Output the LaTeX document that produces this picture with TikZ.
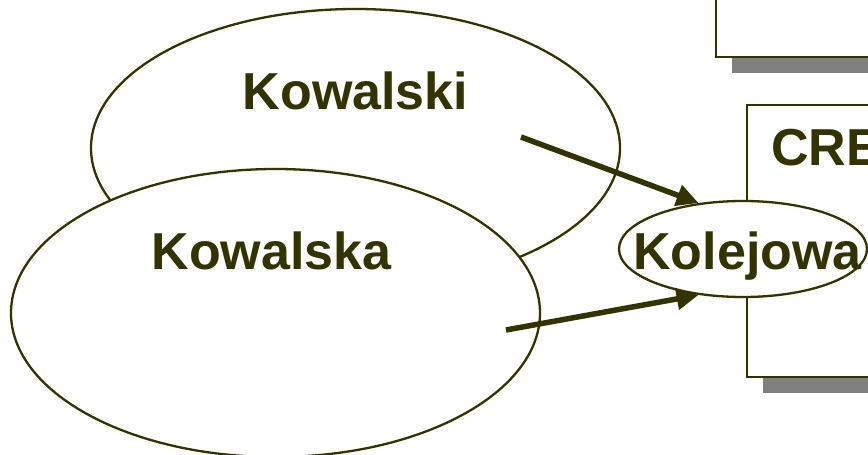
\documentclass[tikz,border=0pt]{standalone}
\usepackage{fontspec}
\setmainfont{Liberation Sans}
\usetikzlibrary{shapes.geometric,arrows.meta}
\definecolor{olive}{RGB}{51,51,0}
\definecolor{shadowgray}{RGB}{128,128,128}
\begin{document}
\begin{tikzpicture}[x=1pt,y=-1pt,
  bigtext/.style={text=olive,font=\fontsize{52}{60}\selectfont\bfseries,inner sep=0},
  oval/.style={ellipse,draw=olive,line width=2.3pt,fill=white,inner sep=0},
  panel/.style={draw=olive,line width=2.5pt,fill=white},
  shadow/.style={fill=shadowgray},
  link/.style={draw=olive,line width=5.5pt,-{Triangle[length=22pt,width=21pt]}}]
\clip (0,0) rectangle (868,455);
% panels on the right with their drop shadows
\fill[shadow] (732,-50) rectangle (920,73);
\draw[panel] (716,-60) rectangle (910,57);
\fill[shadow] (763,121) rectangle (930,393);
\draw[panel] (747,105) rectangle (914,377);
\node[bigtext,anchor=base west] (cre) at (771,165) {CRE};
% overlapping person ovals
\node[oval,minimum width=529pt,minimum height=278pt] (kowalski) at (355.5,148) {};
\node[oval,minimum width=529pt,minimum height=288pt] (kowalska) at (275.5,313) {};
\node[oval,minimum width=248pt,minimum height=96pt] (kol) at (743,249) {};
\node[bigtext,anchor=base] (tki) at (355.5,109) {Kowalski};
\node[bigtext,anchor=base] (tka) at (271.5,269) {Kowalska};
\node[bigtext,anchor=base] (tkol) at (747.5,269) {Kolejowa};
% links into the street oval
\coordinate (s1) at (521,137);
\coordinate (s2) at (506,330);
\draw[link] (s1) -- (kol.134);
\draw[link] (s2) -- (kol.226);
\end{tikzpicture}
\end{document}
